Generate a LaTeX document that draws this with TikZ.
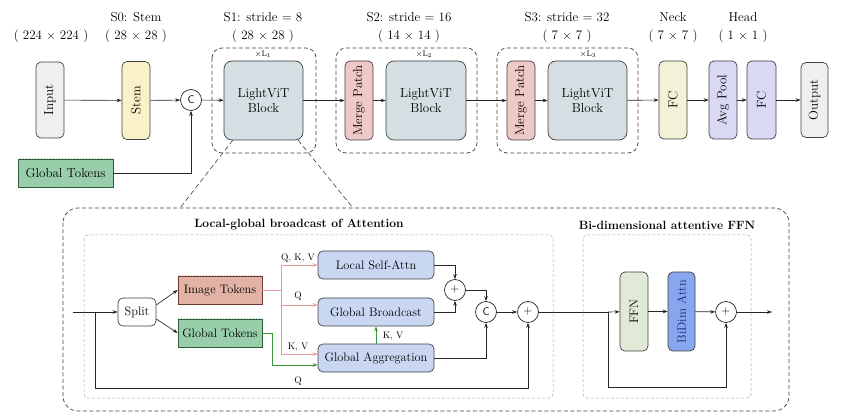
\documentclass[tikz,border=0pt]{standalone}
\usetikzlibrary{arrows.meta,patterns,calc}
\definecolor{cInput}{HTML}{EFEFEF}
\definecolor{cStem}{HTML}{FAF1C9}
\definecolor{cLV}{HTML}{D4DEE3}
\definecolor{cMerge}{HTML}{EEC9C6}
\definecolor{cNeck}{HTML}{F2F2D6}
\definecolor{cHead}{HTML}{D9D9F3}
\definecolor{cGT}{HTML}{9FD4B0}
\definecolor{cGTb}{HTML}{2F5A3C}
\definecolor{cGTp}{HTML}{8CC49E}
\definecolor{cImg}{HTML}{E8B9AD}
\definecolor{cImgb}{HTML}{6A3A30}
\definecolor{cImgp}{HTML}{D9A496}
\definecolor{cAttn}{HTML}{C9D7F3}
\definecolor{cFFN}{HTML}{E0EAD6}
\definecolor{cBi}{HTML}{87A6EE}
\definecolor{cBiT}{HTML}{1A2A7A}
\definecolor{cRed}{HTML}{E89A9A}
\definecolor{cGrn}{HTML}{3C963C}
\newcommand\topfont{\fontsize{13}{15}\selectfont}
\newcommand\botfont{\fontsize{12.3}{14}\selectfont}
\newcommand\labfont{\fontsize{9.5}{11}\selectfont}
\newcommand\ttlfont{\fontsize{12}{14}\selectfont\bfseries}
\begin{document}
\begin{tikzpicture}[x=1pt,y=-1pt,
  bx/.style={draw=black!75, line width=0.7pt, rounded corners=5pt, inner sep=0pt, align=center, font=\topfont},
  bbx/.style={draw=black!75, line width=0.7pt, rounded corners=5pt, inner sep=0pt, align=center, font=\botfont},
  vbox/.style={bx, rotate=90},
  lvbox/.style={bx, fill=cLV, rounded corners=8pt, minimum width=79pt, minimum height=79pt},
  circ/.style={circle, draw=black!85, line width=0.7pt, minimum size=21pt, inner sep=0pt, font=\sffamily\fontsize{11}{11}\selectfont, fill=white},
  arr/.style={-{Stealth[length=5pt,width=3.6pt]}, line width=0.65pt, draw=black!85},
  ln/.style={line width=0.65pt, draw=black!85},
  redarr/.style={-{Stealth[length=5pt,width=3.6pt]}, line width=0.65pt, draw=cRed},
  redl/.style={line width=0.65pt, draw=cRed},
  grnarr/.style={-{Stealth[length=5pt,width=3.6pt]}, line width=0.65pt, draw=cGrn},
  hatchg/.style={preaction={fill=cGT}, pattern=north east lines, pattern color=cGTp, draw=cGTb},
  hatchr/.style={preaction={fill=cImg}, pattern=north east lines, pattern color=cImgp, draw=cImgb},
  dsh/.style={draw=black!75, line width=0.7pt, dash pattern=on 4pt off 2.5pt, rounded corners=10pt},
  gdsh/.style={draw=black!35, line width=0.5pt, dash pattern=on 3pt off 2pt, rounded corners=4pt},
  zdsh/.style={draw=black!75, line width=0.6pt, dash pattern=on 5pt off 3pt},
  lab/.style={font=\labfont, inner sep=0pt},
  ttl/.style={font=\ttlfont, inner sep=0pt},
  head/.style={font=\topfont, inner sep=0pt},
  mult/.style={font=\fontsize{8}{9}\selectfont, inner sep=0pt}
]
\useasboundingbox (0,0) rectangle (843,419);

% ---------------- top headings
\node[head] (h0b) at (51,36) {( 224 $\times$ 224 )};
\node[head] (h1a) at (136,17) {S0: Stem};
\node[head] (h1b) at (136,36) {( 28 $\times$ 28 )};
\node[head] (h2a) at (263,17) {S1: stride = 8};
\node[head] (h2b) at (263,36) {( 28 $\times$ 28 )};
\node[head] (h3a) at (409,17) {S2: stride = 16};
\node[head] (h3b) at (409,36) {( 14 $\times$ 14 )};
\node[head] (h4a) at (567,17) {S3: stride = 32};
\node[head] (h4b) at (567,36) {( 7 $\times$ 7 )};
\node[head] (h5a) at (673,17) {Neck};
\node[head] (h5b) at (673,36) {( 7 $\times$ 7 )};
\node[head] (h6a) at (743,17) {Head};
\node[head] (h6b) at (743,36) {( 1 $\times$ 1 )};

% ---------------- stage dashed boxes
\draw[dsh] (212,48) rectangle (316,153);
\draw[dsh] (336,48) rectangle (477,153);
\draw[dsh] (497,48) rectangle (638,153);
\node[mult] (m1) at (263,54) {$\times$L\textsubscript{1}};
\node[mult] (m2) at (424,54) {$\times$L\textsubscript{2}};
\node[mult] (m3) at (588,54) {$\times$L\textsubscript{3}};

% ---------------- top row nodes
\node[vbox, fill=cInput, minimum width=76pt, minimum height=28pt] (input) at (50,100) {Input};
\node[vbox, fill=cStem, minimum width=78pt, minimum height=28pt] (stem) at (136,100.5) {Stem};
\node[circ] (c1) at (191,100) {C};
\node[lvbox] (lv1) at (263.5,100.5) {LightViT\\Block};
\node[vbox, fill=cMerge, minimum width=79pt, minimum height=28pt] (mp2) at (359,100.5) {Merge Patch};
\node[lvbox, minimum width=80pt] (lv2) at (426,100.5) {LightViT\\Block};
\node[vbox, fill=cMerge, minimum width=79pt, minimum height=28pt] (mp3) at (521,100.5) {Merge Patch};
\node[lvbox] (lv3) at (587.5,100.5) {LightViT\\Block};
\node[vbox, fill=cNeck, minimum width=78pt, minimum height=28pt] (fc1) at (673,100) {FC};
\node[vbox, fill=cHead, minimum width=78pt, minimum height=28pt] (avg) at (723,100) {Avg Pool};
\node[vbox, fill=cHead, minimum width=78pt, minimum height=29pt] (fc2) at (761.5,100) {FC};
\node[vbox, fill=cInput, minimum width=75pt, minimum height=27pt] (output) at (814.5,100) {Output};
\node[bx, rounded corners=0pt, hatchg, minimum width=95pt, minimum height=28pt] (gtop) at (65.5,173) {Global Tokens};

\draw[arr] (input) -- (stem);
\draw[arr] (stem) -- (c1);
\draw[arr] (c1) -- (lv1);
\draw[arr] (gtop.east) -| (c1.south);
\draw[arr] (lv1) -- (mp2);
\draw[arr] (mp2) -- (lv2);
\draw[arr] (lv2) -- (mp3);
\draw[arr] (mp3) -- (lv3);
\draw[arr] (lv3) -- (fc1);
\draw[arr] (fc1) -- (avg);
\draw[arr] (avg) -- (fc2);
\draw[arr] (fc2) -- (output);

% ---------------- zoom lines
\coordinate (za) at (233,140);
\coordinate (zb) at (180,208);
\coordinate (zc) at (298,140);
\coordinate (zd) at (353,208);
\draw[zdsh] (za) -- (zb);
\draw[zdsh] (zc) -- (zd);

% ---------------- bottom frames
\draw[dsh, rounded corners=15pt] (63,208) rectangle (789,411);
\draw[gdsh] (84,235) rectangle (553,398);
\draw[gdsh] (583,235) rectangle (751,398);
\node[ttl] (t1) at (299,225) {Local-global broadcast of Attention};
\node[ttl] (t2) at (667,225) {Bi-dimensional attentive FFN};

% ---------------- bottom nodes
\node[bbx, fill=white, minimum width=38pt, minimum height=28pt] (split) at (137,312) {Split};
\node[bbx, rounded corners=0pt, hatchr, minimum width=84pt, minimum height=28pt] (img) at (220,290) {Image Tokens};
\node[bbx, rounded corners=0pt, hatchg, minimum width=84pt, minimum height=28pt] (gtok) at (220,333) {Global Tokens};
\node[bbx, fill=cAttn, minimum width=116pt, minimum height=28pt] (lsa) at (376,265) {Local Self-Attn};
\node[bbx, fill=cAttn, minimum width=116pt, minimum height=28pt] (gb) at (376,312) {Global Broadcast};
\node[bbx, fill=cAttn, minimum width=116pt, minimum height=28pt] (ga) at (376,358) {Global Aggregation};
\node[circ, font=\sffamily\fontsize{12}{12}\selectfont] (p1) at (455,290) {+};
\node[circ] (c2) at (486,312) {C};
\node[circ, font=\sffamily\fontsize{12}{12}\selectfont] (p2) at (528,312) {+};
\node[bbx, rotate=90, fill=cFFN, minimum width=79pt, minimum height=28pt] (ffn) at (634,311.5) {FFN};
\node[bbx, rotate=90, fill=cBi, text=cBiT, minimum width=79pt, minimum height=27pt] (bidim) at (681.5,311.5) {BiDim Attn};
\node[circ, font=\sffamily\fontsize{12}{12}\selectfont] (p3) at (726,312) {+};

% labels
\node[lab] (lqkv) at (298,258) {Q, K, V};
\node[lab] (lq1) at (298,296) {Q};
\node[lab] (lkv) at (298,347) {K, V};
\node[lab] (lq2) at (298,381) {Q};
\node[lab] (lkv2) at (393,336) {K, V};

% ---------------- bottom connectors
\coordinate (inL) at (73,312);
\coordinate (br1) at (95,312);
\coordinate (sk1) at (95,388);
\coordinate (rj) at (281,290);
\coordinate (br2) at (608,312);
\coordinate (sk2) at (608,387);
\coordinate (outR) at (772,312);

\draw[arr] (inL) -- (split);
\draw[arr] (split.20) -- (img.west);
\draw[arr] (split.-20) -- (gtok.west);
\draw[redl] (img.east) -- (rj);
\draw[redarr] (rj) |- (lsa.west);
\draw[redarr] (rj) |- ([yshift=7pt]gb.west);
\draw[redarr] (rj) |- ([yshift=4pt]ga.west);
\draw[grnarr] (gtok.east) -- ++(10,0) |- ([yshift=-7pt]ga.west);
\draw[grnarr] (ga.north) -- (gb.south);
\draw[arr] (lsa.east) -| (p1.north);
\draw[arr] (gb.east) -| (p1.south);
\draw[arr] (p1.east) -| (c2.north);
\draw[arr] (ga.east) -| (c2.south);
\draw[arr] (c2) -- (p2);
\draw[arr] (br1) -- (sk1) -| (p2.south);
\draw[ln] (p2) -- (br2);
\draw[arr] (br2) -- (ffn);
\draw[arr] (ffn) -- (bidim);
\draw[arr] (bidim) -- (p3);
\draw[arr] (p3) -- (outR);
\draw[arr] (br2) -- (sk2) -| (p3.south);
\end{tikzpicture}
\end{document}
